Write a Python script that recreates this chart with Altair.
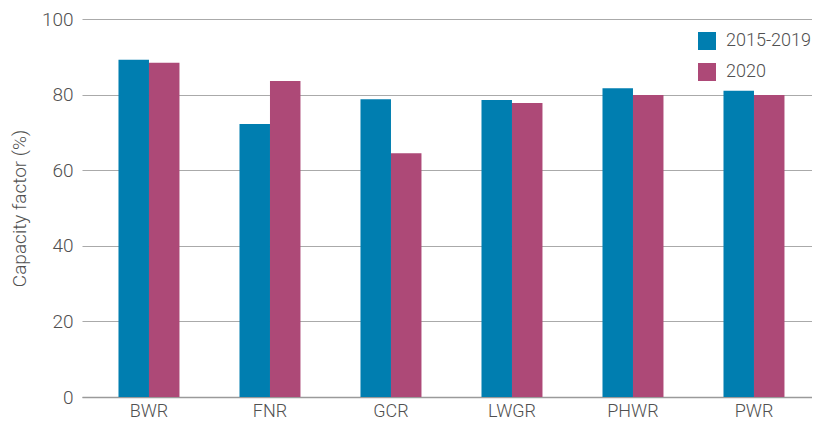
import altair as alt
import pandas as pd

categories = ["BWR", "FNR", "GCR", "LWGR", "PHWR", "PWR"]
series = ["2015-2019", "2020"]
values_2015_2019 = [89.2, 72.2, 78.8, 78.6, 81.7, 81.0]
values_2020 = [88.4, 83.6, 64.5, 77.8, 79.9, 79.9]
colors = ["#007EB0", "#AD4977"]

rows = []
for c, a, b in zip(categories, values_2015_2019, values_2020):
    rows.append({"type": c, "period": series[0], "value": a})
    rows.append({"type": c, "period": series[1], "value": b})
df = pd.DataFrame(rows)

font = "Roboto"
txt = "#505050"

chart = alt.Chart(df).mark_bar().encode(
    x=alt.X("type:N", sort=categories, title=None,
            scale=alt.Scale(paddingInner=0.496, paddingOuter=0.2645, align=0.57),
            axis=alt.Axis(labelAngle=0, labelFontSize=18, labelColor=txt,
                          labelFont=font, labelFontWeight=300, labelPadding=5,
                          ticks=False, domainColor="#9a9a9a", domainWidth=1.5,
                          grid=False)),
    xOffset=alt.XOffset("period:N", sort=series),
    y=alt.Y("value:Q", title="Capacity factor (%)",
            scale=alt.Scale(domain=[0, 100], nice=False),
            axis=alt.Axis(values=[0, 20, 40, 60, 80, 100], ticks=False, domain=False,
                          gridColor="#aaaaaa", gridWidth=1.2,
                          labelFontSize=19, labelColor=txt, labelFont=font,
                          labelFontWeight=300, labelPadding=9,
                          titleFontSize=19, titleColor=txt, titleFont=font,
                          titleFontWeight=300, titlePadding=12)),
    color=alt.Color("period:N", sort=series,
                    scale=alt.Scale(domain=series, range=colors),
                    legend=alt.Legend(title=None, orient="none", legendX=616, legendY=13,
                                      symbolType="square", symbolSize=324,
                                      symbolStrokeWidth=0, labelFontSize=18,
                                      labelColor=txt, labelFont=font,
                                      labelFontWeight=300, rowPadding=13,
                                      labelOffset=10)),
).properties(
    width=730, height=378,
    padding={"left": 74, "top": 11, "right": 0, "bottom": 22},
    autosize=alt.AutoSizeParams(type="none"),
).configure_view(stroke=None)

chart.save("out.html", embed_options={"renderer": "svg", "actions": False})
